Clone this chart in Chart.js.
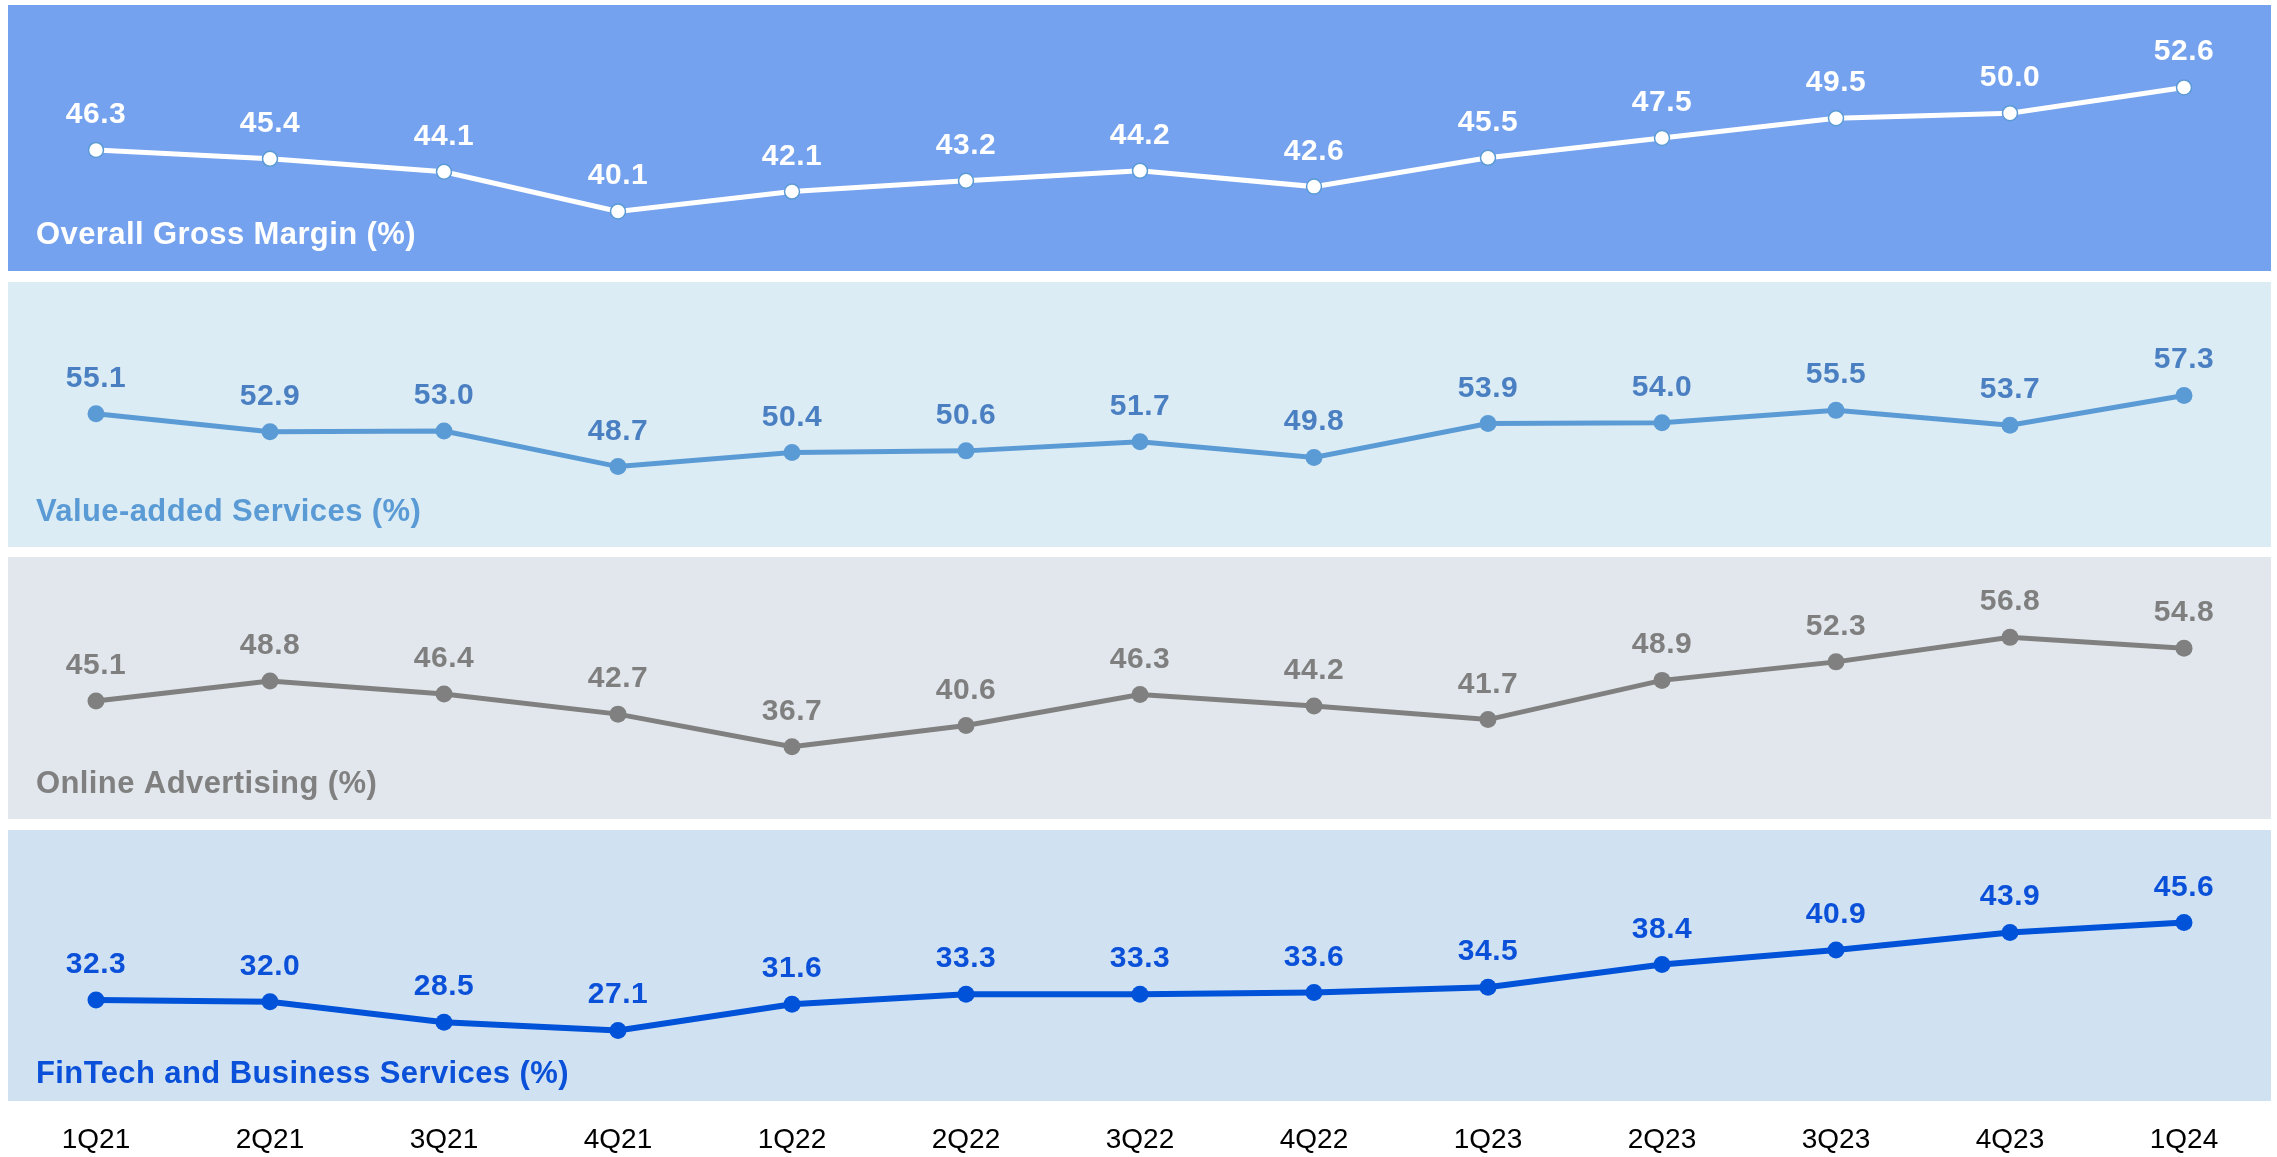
<!DOCTYPE html>
<html>
<head>
<meta charset="utf-8">
<script src="https://cdn.jsdelivr.net/npm/chart.js@4.4.1/dist/chart.umd.min.js"></script>
<style>
  body { margin: 0; background: #fff; width: 2277px; height: 1157px; overflow: hidden; position: relative; }
  .panel { position: absolute; left: 8px; width: 2263px; }
  .wrap { position: absolute; left: 0; width: 2277px; }
</style>
</head>
<body>
<div class="panel" style="top:5px;height:266px;background:#74a2ee"></div>
<div class="panel" style="top:282px;height:265px;background:#dcecf4"></div>
<div class="panel" style="top:557px;height:262px;background:#e1e7ec"></div>
<div class="panel" style="top:830px;height:271px;background:#d0e2f2"></div>

<div class="wrap" style="top:5px;height:266px"><canvas id="c0"></canvas></div>
<div class="wrap" style="top:282px;height:265px"><canvas id="c1"></canvas></div>
<div class="wrap" style="top:557px;height:262px"><canvas id="c2"></canvas></div>
<div class="wrap" style="top:830px;height:327px"><canvas id="c3"></canvas></div>

<script>
const quarters = ['1Q21', '2Q21', '3Q21', '4Q21', '1Q22', '2Q22', '3Q22', '4Q22', '1Q23', '2Q23', '3Q23', '4Q23', '1Q24']

const overallMargin = [46.3, 45.4, 44.1, 40.1, 42.1, 43.2, 44.2, 42.6, 45.5, 47.5, 49.5, 50.0, 52.6]
const vasMargin = [55.1, 52.9, 53.0, 48.7, 50.4, 50.6, 51.7, 49.8, 53.9, 54.0, 55.5, 53.7, 57.3]
const adMargin = [45.1, 48.8, 46.4, 42.7, 36.7, 40.6, 46.3, 44.2, 41.7, 48.9, 52.3, 56.8, 54.8]
const fintechMargin = [32.3, 32.0, 28.5, 27.1, 31.6, 33.3, 33.3, 33.6, 34.5, 38.4, 40.9, 43.9, 45.6]

const panelTitles = ['Overall Gross Margin (%)', 'Value-added Services (%)', 'Online Advertising (%)', 'FinTech and Business Services (%)']

const FONT = 'Arial, "Liberation Sans", Helvetica, sans-serif'

// Value labels above each point plus the panel title in the lower left.
const labelPlugin = {
  id: 'panelLabels',
  afterDatasetsDraw(chart, args, opts) {
    const ctx = chart.ctx
    const meta = chart.getDatasetMeta(0)
    const values = chart.data.datasets[0].data
    ctx.save()
    ctx.font = 'bold 30px ' + FONT
    ctx.letterSpacing = '0.5px'
    ctx.fillStyle = opts.valueColor
    ctx.textAlign = 'center'
    ctx.textBaseline = 'alphabetic'
    meta.data.forEach((pt, i) => {
      ctx.fillText(values[i].toFixed(1), pt.x, pt.y - 27)
    })
    ctx.font = 'bold 31px ' + FONT
    ctx.letterSpacing = '0.4px'
    ctx.fillStyle = opts.titleColor
    ctx.textAlign = 'left'
    ctx.fillText(opts.title, 36, chart.chartArea.bottom - 18)
    ctx.restore()
  }
}

function makePanel(id, values, cfg) {
  const isLast = !!cfg.showAxis
  const xAxis = {
    display: isLast,
    grid: { display: false, drawTicks: false },
    border: { display: false },
    ticks: { color: '#000', font: { family: FONT, size: 28 }, padding: 22, maxRotation: 0 }
  }
  if (isLast) {
    xAxis.afterFit = (scale) => { scale.height = 56 }
  }
  return new Chart(document.getElementById(id), {
    type: 'line',
    data: {
      labels: quarters,
      datasets: [{
        data: values,
        borderColor: cfg.line,
        borderWidth: cfg.width,
        pointRadius: cfg.radius,
        pointBackgroundColor: cfg.pointFill,
        pointBorderColor: cfg.pointBorder,
        pointBorderWidth: cfg.pointBorderWidth,
        tension: 0,
        clip: false
      }]
    },
    options: {
      responsive: true,
      maintainAspectRatio: false,
      animation: false,
      layout: { padding: { left: 96, right: 93, top: 0, bottom: 0 } },
      plugins: {
        legend: { display: false },
        tooltip: { enabled: false },
        panelLabels: { valueColor: cfg.valueColor, titleColor: cfg.titleColor, title: cfg.title }
      },
      scales: {
        x: xAxis,
        y: {
          display: false,
          min: cfg.min,
          max: cfg.max
        }
      }
    },
    plugins: [labelPlugin]
  })
}

makePanel('c0', overallMargin, {
  min: 35, max: 60, line: '#ffffff', width: 5, radius: 7.5,
  pointFill: '#ffffff', pointBorder: '#5b9bd5', pointBorderWidth: 1.5,
  valueColor: '#ffffff', titleColor: '#ffffff', title: panelTitles[0]
})
makePanel('c1', vasMargin, {
  min: 40, max: 70, line: '#5b9bd5', width: 5, radius: 8.5,
  pointFill: '#5b9bd5', pointBorder: '#5b9bd5', pointBorderWidth: 0,
  valueColor: '#4a7fc2', titleColor: '#5b9bd5', title: panelTitles[1]
})
makePanel('c2', adMargin, {
  min: 25, max: 70, line: '#808080', width: 5, radius: 8.5,
  pointFill: '#808080', pointBorder: '#808080', pointBorderWidth: 0,
  valueColor: '#7f7f7f', titleColor: '#808080', title: panelTitles[2]
})
makePanel('c3', fintechMargin, {
  min: 15, max: 60, line: '#0052d9', width: 6, radius: 8.5,
  pointFill: '#0052d9', pointBorder: '#0052d9', pointBorderWidth: 0,
  valueColor: '#0a50d8', titleColor: '#0a50d8', title: panelTitles[3], showAxis: true
})
</script>
</body>
</html>
